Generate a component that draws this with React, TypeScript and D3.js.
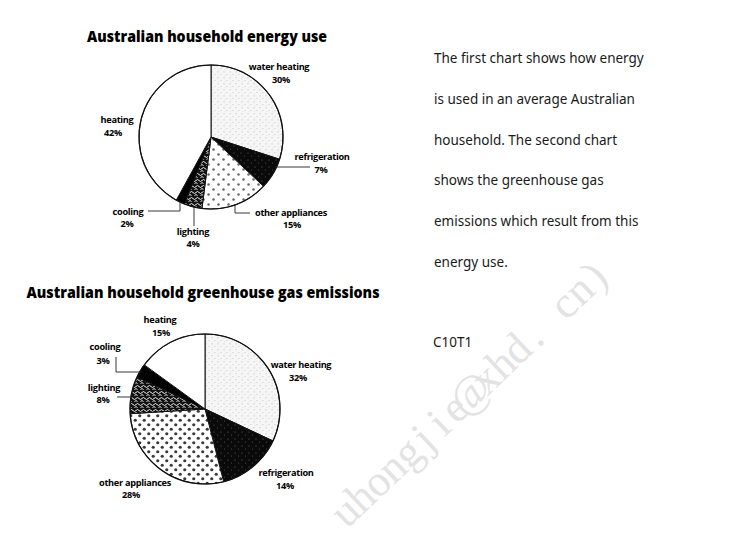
import React from "react";
import * as d3 from "d3";

// ---------- data ----------
const categories = [
  "water heating",
  "refrigeration",
  "other appliances",
  "lighting",
  "cooling",
  "heating",
];
const energyUse = [30, 7, 15, 4, 2, 42];
const emissions = [32, 14, 28, 8, 3, 15];
const chartTitles = [
  "Australian household energy use",
  "Australian household greenhouse gas emissions",
];
const paragraphLines = [
  "The first chart shows how energy",
  "is used in an average Australian",
  "household. The second chart",
  "shows the greenhouse gas",
  "emissions which result from this",
  "energy use.",
];
const taskCode = "C10T1";
const watermark = "uhongjie@xhd. cn)";

// ---------- layout (positions / styles) ----------
const W = 735;
const H = 548;
const fills = [
  "url(#pWater)",
  "url(#pFridge)",
  "url(#pDots)",
  "url(#pSquig)",
  "#000",
  "#fff",
];

type LabelPos = { x: number; y: number; px: number; py: number };
type Leader = number[][];

const layouts = [
  {
    cx: 211,
    cy: 137,
    r: 72,
    title: { x: 207, y: 42, w: 240 },
    labels: [
      { x: 279, y: 70, px: 281, py: 83 },
      { x: 322, y: 160, px: 321, py: 173 },
      { x: 291, y: 216, px: 292, py: 228 },
      { x: 193, y: 235, px: 193, py: 247 },
      { x: 128, y: 215, px: 127, py: 227 },
      { x: 117, y: 123, px: 113, py: 136 },
    ] as LabelPos[],
    leaders: [
      null,
      [[276, 167], [310, 167]],
      [[235, 204], [235, 213], [250, 213]],
      [[194, 207], [194, 226]],
      [[180, 202], [180, 211], [148, 211]],
      null,
    ] as (Leader | null)[],
    dotTile: 10,
    dotR: 1.25,
    dotFill: "#666",
  },
  {
    cx: 205,
    cy: 409,
    r: 75,
    title: { x: 203, y: 298, w: 353 },
    labels: [
      { x: 301, y: 368, px: 298, py: 381 },
      { x: 286, y: 476, px: 285, py: 489 },
      { x: 135, y: 486, px: 131, py: 498 },
      { x: 104, y: 391, px: 103, py: 403 },
      { x: 105, y: 350, px: 103, py: 364 },
      { x: 160, y: 323, px: 161, py: 336 },
    ] as LabelPos[],
    leaders: [
      null,
      null,
      null,
      [[132, 397], [117, 397]],
      [[142, 372], [116, 372], [116, 357]],
      null,
    ] as (Leader | null)[],
    dotTile: 9,
    dotR: 1.6,
    dotFill: "#3a3a3a",
  },
];

const labelFont = "'Open Sans', 'Noto Sans', sans-serif";

function Pie({ values, idx }: { values: number[]; idx: number }) {
  const L = layouts[idx];
  const pie = d3
    .pie<number>()
    .sort(null)
    .value((d) => d)
    .startAngle(0)
    .endAngle(2 * Math.PI);
  const arcs = pie(values);
  const arc = d3.arc<d3.PieArcDatum<number>>().innerRadius(0).outerRadius(L.r);
  const line = d3.line();
  const dotsId = idx === 0 ? "url(#pDots)" : "url(#pDots2)";
  return (
    <g>
      <text
        x={L.title.x}
        y={L.title.y}
        textAnchor="middle"
        fontFamily={labelFont}
        fontWeight={800}
        fontSize={15}
        textLength={L.title.w}
        lengthAdjust="spacingAndGlyphs"
        fill="#000"
      >
        {chartTitles[idx]}
      </text>
      <g transform={`translate(${L.cx},${L.cy})`}>
        {arcs.map((a, i) => (
          <path
            key={i}
            d={arc(a) || ""}
            fill={i === 2 ? dotsId : fills[i]}
            stroke="#111"
            strokeWidth={1}
            strokeLinejoin="round"
          />
        ))}
        <circle r={L.r} fill="none" stroke="#111" strokeWidth={1.2} />
      </g>
      {L.leaders.map((ld, i) =>
        ld ? (
          <path key={"l" + i} d={line(ld as [number, number][]) || ""} fill="none" stroke="#222" strokeWidth={0.9} />
        ) : null
      )}
      {categories.map((c, i) => (
        <g key={"t" + i} fontFamily={labelFont} fontWeight={700} fontSize={9.2} fill="#000" textAnchor="middle">
          <text x={L.labels[i].x} y={L.labels[i].y} letterSpacing={-0.3}>
            {c}
          </text>
          <text x={L.labels[i].px} y={L.labels[i].py} letterSpacing={-0.3}>
            {values[i]}%
          </text>
        </g>
      ))}
    </g>
  );
}

function DotPattern({ id, idx }: { id: string; idx: number }) {
  const L = layouts[idx];
  const t = L.dotTile;
  return (
    <pattern id={id} width={t} height={t} patternUnits="userSpaceOnUse">
      <rect width={t} height={t} fill="#fff" />
      <circle cx={t * 0.25} cy={t * 0.25} r={L.dotR} fill={L.dotFill} />
      <circle cx={t * 0.75} cy={t * 0.75} r={L.dotR} fill={L.dotFill} />
    </pattern>
  );
}

export default function App() {
  const wmChars = Array.from(watermark);
  return (
    <svg
      width={W}
      height={H}
      viewBox={`0 0 ${W} ${H}`}
      style={{ position: "absolute", left: 0, top: 0, background: "#fff" }}
    >
      <defs>
        <pattern id="pWater" width="6" height="6" patternUnits="userSpaceOnUse">
          <rect width="6" height="6" fill="#f6f6f6" />
          <rect x="0.5" y="0.5" width="1" height="0.8" fill="#a8a8a8" />
          <rect x="3.5" y="3" width="0.9" height="0.8" fill="#b8b8b8" />
          <rect x="1.5" y="4.5" width="0.7" height="0.6" fill="#c8c8c8" />
        </pattern>
        <pattern id="pFridge" width="7" height="7" patternUnits="userSpaceOnUse">
          <rect width="7" height="7" fill="#0a0a0a" />
          <circle cx="2" cy="2" r="0.5" fill="#777" />
          <circle cx="5.5" cy="5" r="0.4" fill="#999" />
        </pattern>
        <DotPattern id="pDots" idx={0} />
        <DotPattern id="pDots2" idx={1} />
        <pattern id="pSquig" width="6" height="6" patternUnits="userSpaceOnUse">
          <rect width="6" height="6" fill="#111" />
          <path d="M0,1.5 q1.5,2 3,0 t3,0" fill="none" stroke="#fff" strokeWidth="0.9" />
          <path d="M1.5,4.5 q1.5,-1.8 3,0" fill="none" stroke="#fff" strokeWidth="0.9" />
        </pattern>
      </defs>
      <rect width={W} height={H} fill="#fff" />
      <g
        transform="translate(355,522) rotate(-43.5)"
        fontFamily="'Liberation Serif', 'DejaVu Serif', serif"
        fontSize={44}
        fill="#e3e3e3"
        textAnchor="middle"
      >
        {wmChars.map((ch, i) => (
          <text key={i} x={i * 21.5} y={0}>
            {ch}
          </text>
        ))}
      </g>
      <Pie values={energyUse} idx={0} />
      <Pie values={emissions} idx={1} />
      <g fontFamily="'Noto Sans', sans-serif" fontSize={13.5} fill="#1a1a1a">
        {paragraphLines.map((t, i) => (
          <text key={i} x={434} y={63 + i * 40.8}>
            {t}
          </text>
        ))}
        <text x={433} y={347}>{taskCode}</text>
      </g>
    </svg>
  );
}
